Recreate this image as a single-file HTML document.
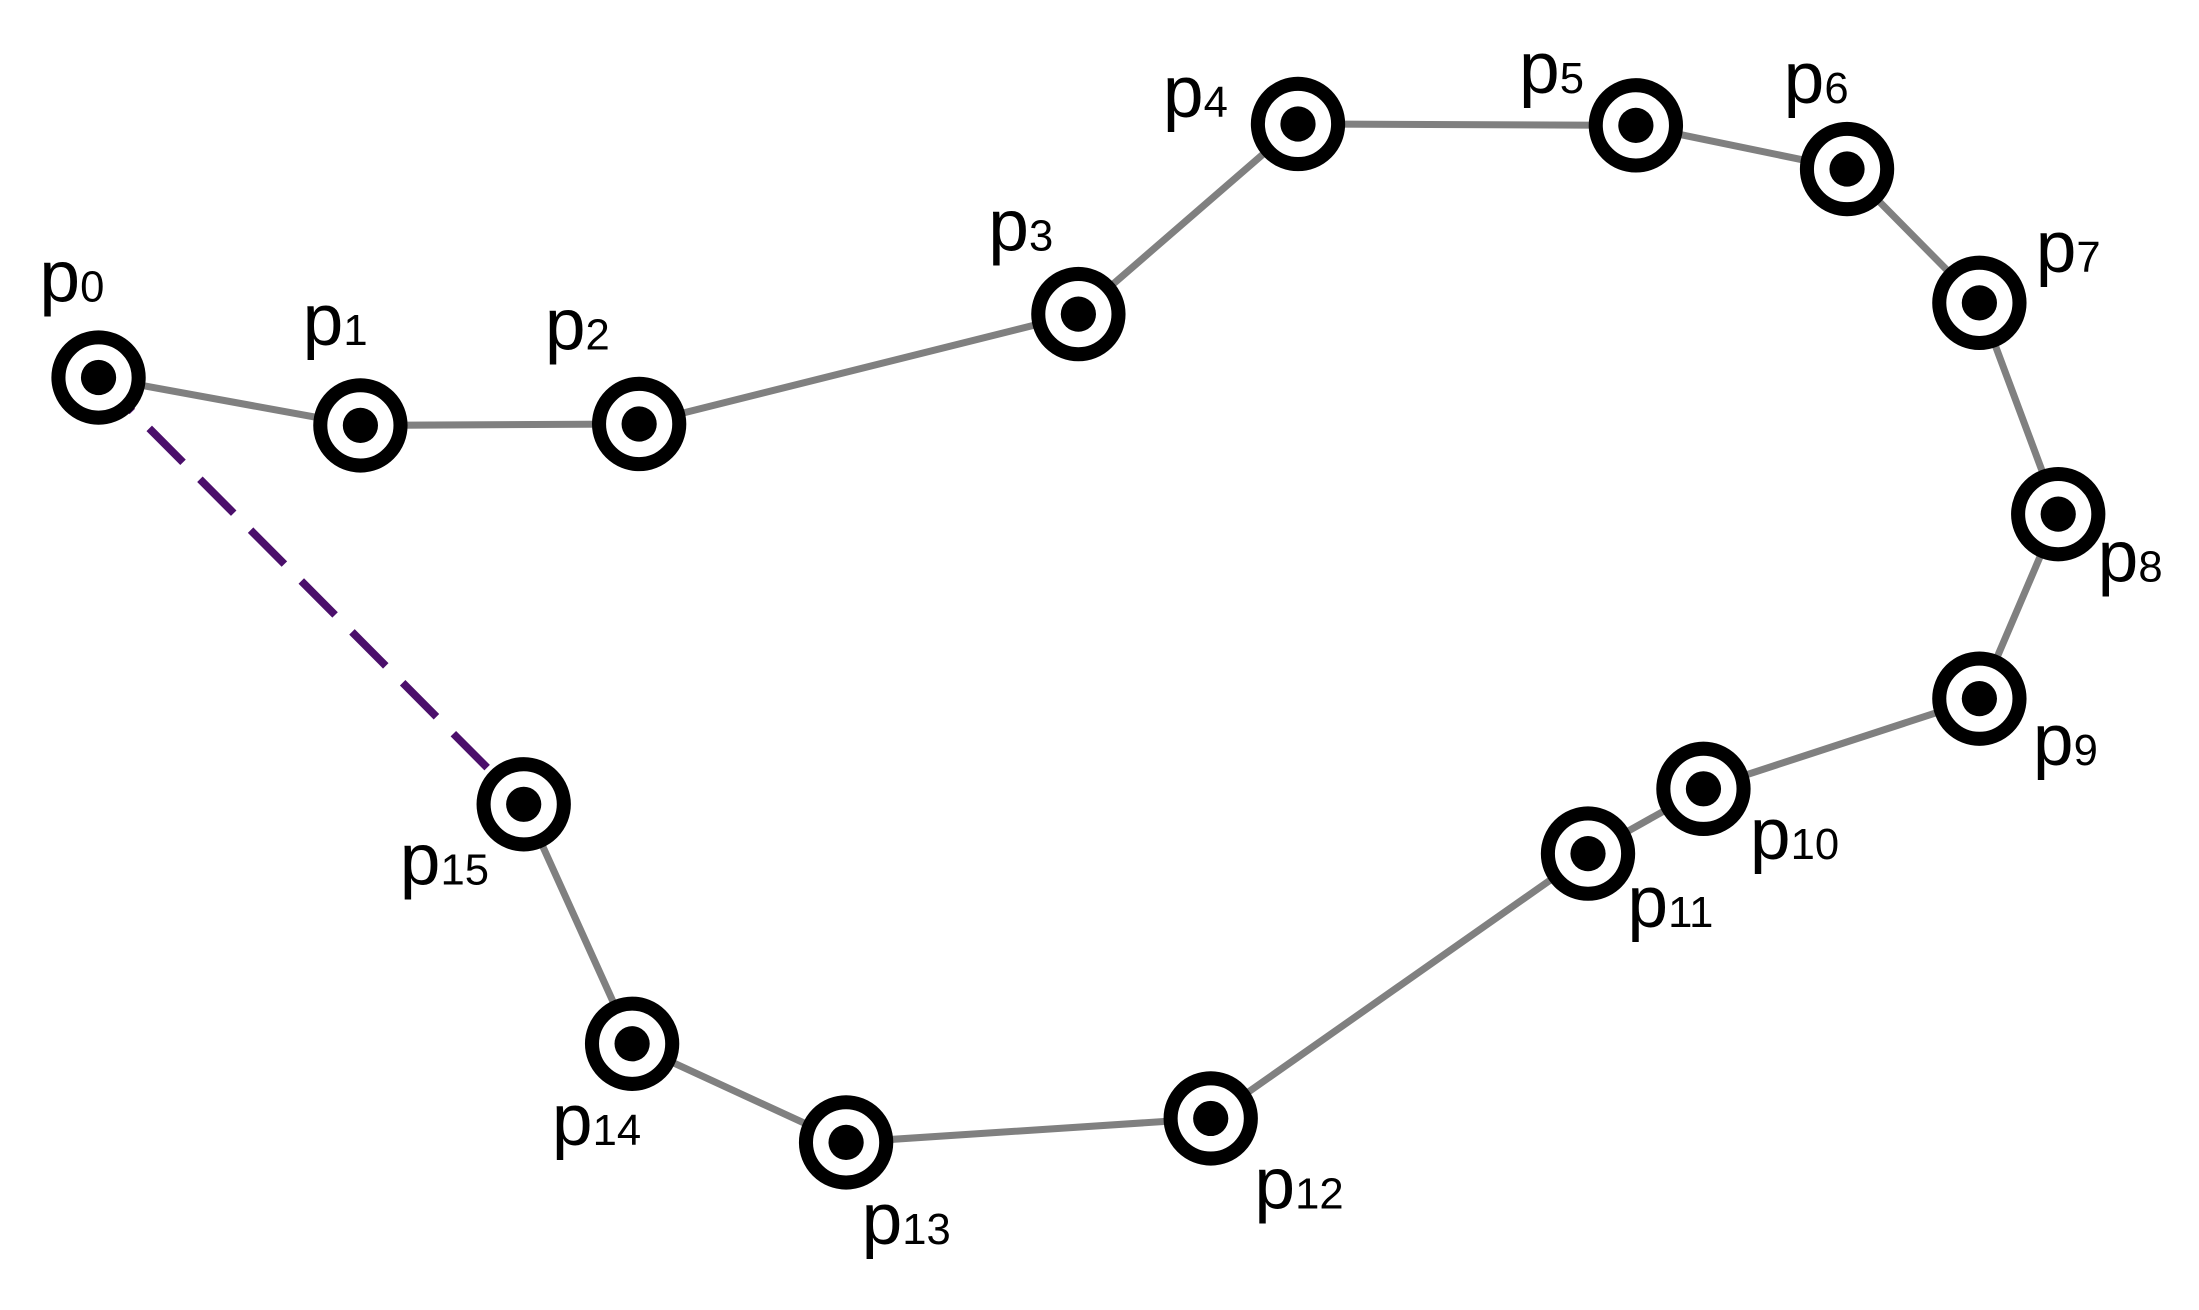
<!DOCTYPE html>
<html><head><meta charset="utf-8"><style>
html,body{margin:0;padding:0;background:#fff;}
svg{display:block;}
text{font-family:"Liberation Sans",sans-serif;fill:#000;}
</style></head><body>
<svg width="2199" height="1310" viewBox="0 0 1562 930" preserveAspectRatio="none" xmlns="http://www.w3.org/2000/svg">
<rect width="1562" height="930" fill="#fff"/>
<polyline fill="none" stroke="#808080" stroke-width="5" points="70,268 256,302 454,301 766,223 922,88 1162,89 1312,120 1406,215 1462,365 1406,496 1210,560 1128,606 860,794 601,811 449,741 372,571"/>
<line x1="70" y1="268" x2="372" y2="571" stroke="#4b0f6b" stroke-width="5.5" stroke-dasharray="34 17"/>
<g fill="#fff" stroke="#000" stroke-width="10">
<circle cx="70" cy="268" r="28.5"/><circle cx="256" cy="302" r="28.5"/><circle cx="454" cy="301" r="28.5"/><circle cx="766" cy="223" r="28.5"/>
<circle cx="922" cy="88" r="28.5"/><circle cx="1162" cy="89" r="28.5"/><circle cx="1312" cy="120" r="28.5"/><circle cx="1406" cy="215" r="28.5"/>
<circle cx="1462" cy="365" r="28.5"/><circle cx="1406" cy="496" r="28.5"/><circle cx="1210" cy="560" r="28.5"/><circle cx="1128" cy="606" r="28.5"/>
<circle cx="860" cy="794" r="28.5"/><circle cx="601" cy="811" r="28.5"/><circle cx="449" cy="741" r="28.5"/><circle cx="372" cy="571" r="28.5"/>
</g>
<g fill="#000">
<circle cx="70" cy="268" r="12.5"/><circle cx="256" cy="302" r="12.5"/><circle cx="454" cy="301" r="12.5"/><circle cx="766" cy="223" r="12.5"/>
<circle cx="922" cy="88" r="12.5"/><circle cx="1162" cy="89" r="12.5"/><circle cx="1312" cy="120" r="12.5"/><circle cx="1406" cy="215" r="12.5"/>
<circle cx="1462" cy="365" r="12.5"/><circle cx="1406" cy="496" r="12.5"/><circle cx="1210" cy="560" r="12.5"/><circle cx="1128" cy="606" r="12.5"/>
<circle cx="860" cy="794" r="12.5"/><circle cx="601" cy="811" r="12.5"/><circle cx="449" cy="741" r="12.5"/><circle cx="372" cy="571" r="12.5"/>
</g>
<g font-size="52">
<text x="28" y="214">p<tspan font-size="31">0</tspan></text>
<text x="215" y="245">p<tspan font-size="31">1</tspan></text>
<text x="387" y="248">p<tspan font-size="31">2</tspan></text>
<text x="702" y="178">p<tspan font-size="31">3</tspan></text>
<text x="826" y="83">p<tspan font-size="31">4</tspan></text>
<text x="1079" y="66">p<tspan font-size="31">5</tspan></text>
<text x="1267" y="73">p<tspan font-size="31">6</tspan></text>
<text x="1446" y="193">p<tspan font-size="31">7</tspan></text>
<text x="1490" y="413">p<tspan font-size="31">8</tspan></text>
<text x="1444" y="543">p<tspan font-size="31">9</tspan></text>
<text x="1243" y="610">p<tspan font-size="31">10</tspan></text>
<text x="1156" y="658">p<tspan font-size="31">11</tspan></text>
<text x="891" y="858">p<tspan font-size="31">12</tspan></text>
<text x="612" y="883">p<tspan font-size="31">13</tspan></text>
<text x="392" y="813">p<tspan font-size="31">14</tspan></text>
<text x="284" y="628">p<tspan font-size="31">15</tspan></text>
</g>
</svg>
</body></html>
